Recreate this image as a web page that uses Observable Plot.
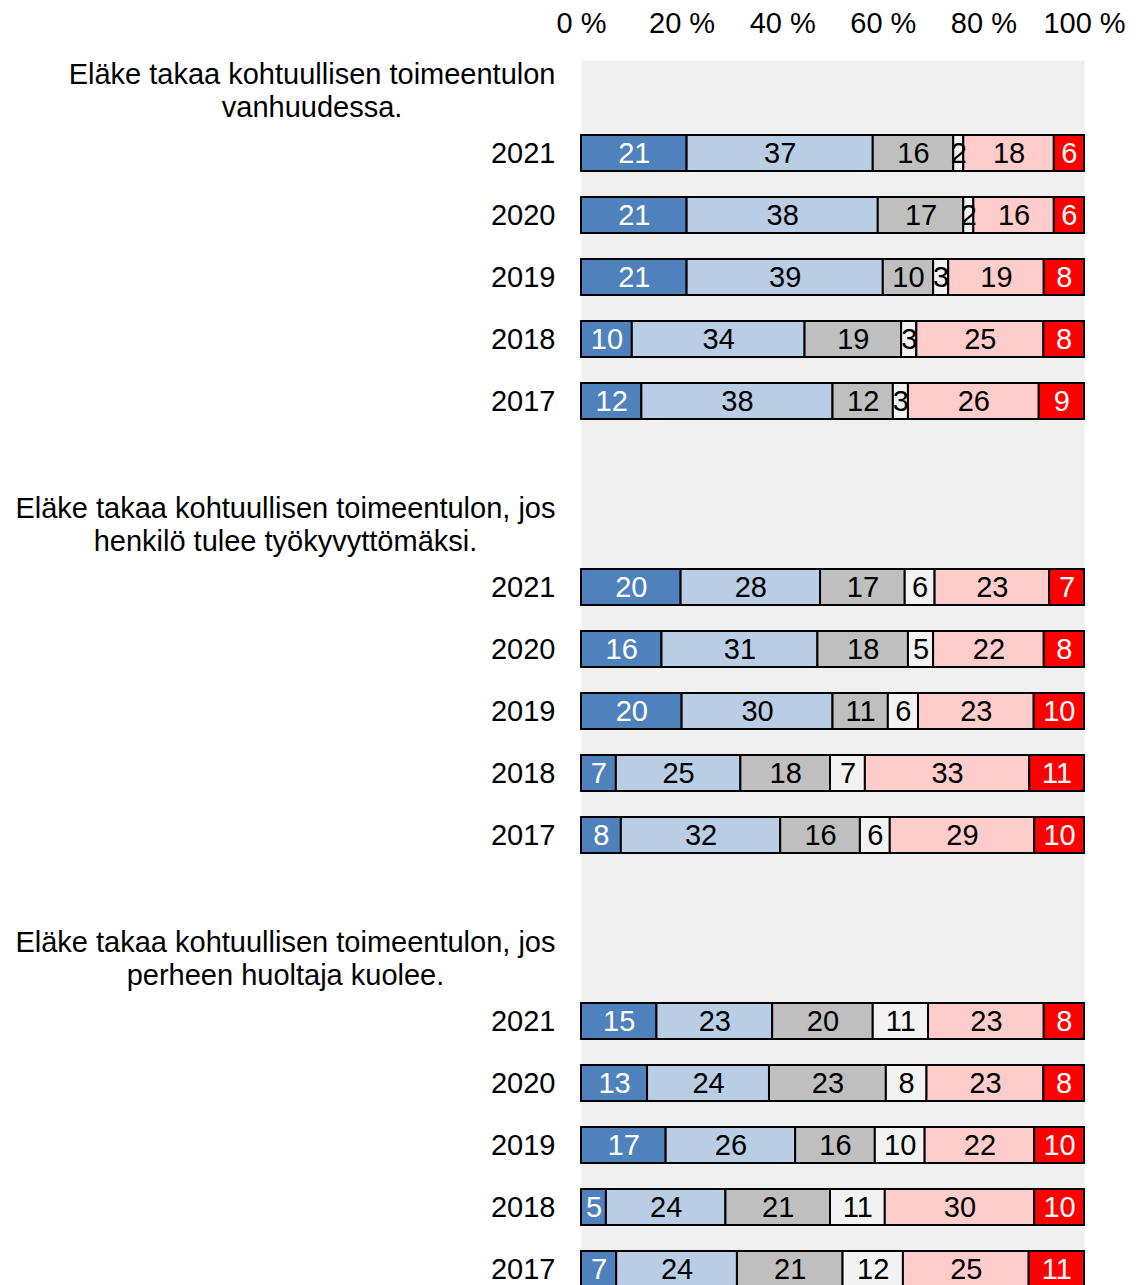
<!DOCTYPE html>
<html>
<head>
<meta charset="utf-8">
<script src="https://cdn.jsdelivr.net/npm/d3@7"></script>
<script src="https://cdn.jsdelivr.net/npm/@observablehq/plot@0.6"></script>
<style>
  html, body { margin: 0; padding: 0; background: #fff; }
  #chart { width: 1136px; height: 1285px; overflow: hidden; }
</style>
</head>
<body>
<div id="chart"></div>
<script>
const groups = [
  "Eläke takaa kohtuullisen toimeentulon\nvanhuudessa.",
  "Eläke takaa kohtuullisen toimeentulon, jos\nhenkilö tulee työkyvyttömäksi.",
  "Eläke takaa kohtuullisen toimeentulon, jos\nperheen huoltaja kuolee."
];
const years = ["2021", "2020", "2019", "2018", "2017"];
const categories = ["c1", "c2", "c3", "c4", "c5", "c6"];
const colors = ["#4f81bd", "#b9cde5", "#bfbfbf", "#f2f2f2", "#ffcccc", "#ff0000"];
const textColors = ["#ffffff", "#000000", "#000000", "#000000", "#000000", "#ffffff"];
const tickLabels = ["0 %", "20 %", "40 %", "60 %", "80 %", "100 %"];

const values1 = [
  [21, 37, 16, 2, 18, 6],
  [21, 38, 17, 2, 16, 6],
  [21, 39, 10, 3, 19, 8],
  [10, 34, 19, 3, 25, 8],
  [12, 38, 12, 3, 26, 9]
];
const values2 = [
  [20, 28, 17, 6, 23, 7],
  [16, 31, 18, 5, 22, 8],
  [20, 30, 11, 6, 23, 10],
  [7, 25, 18, 7, 33, 11],
  [8, 32, 16, 6, 29, 10]
];
const values3 = [
  [15, 23, 20, 11, 23, 8],
  [13, 24, 23, 8, 23, 8],
  [17, 26, 16, 10, 22, 10],
  [5, 24, 21, 11, 30, 10],
  [7, 24, 21, 12, 25, 11]
];
const allValues = [values1, values2, values3];

// Build slot domain: title, 5 years, spacer per group
const slots = [];
const titleRows = [];
const rows = [];
groups.forEach((g, gi) => {
  const tk = `t${gi}`;
  slots.push(tk);
  titleRows.push({slot: tk, text: g, gi});
  years.forEach((yr, yi) => {
    const key = `g${gi}-${yr}`;
    slots.push(key);
    allValues[gi][yi].forEach((v, ci) => {
      rows.push({slot: key, year: yr, cat: categories[ci], ci, value: v});
    });
  });
  if (gi < groups.length - 1) slots.push(`e${gi}`);
});

const FONT = "Liberation Sans, Arial, sans-serif";
const FS = 29;
const ctx = document.createElement("canvas").getContext("2d");
ctx.font = `${FS}px ${FONT}`;
const marginLeft = 581;
const labelGap = 26;

const titleMarks = titleRows.map(t => {
  const w = d3.max(t.text.split("\n"), s => ctx.measureText(s).width);
  return Plot.text([t], {
    x: 0, y: "slot", text: "text",
    textAnchor: "middle", lineAnchor: "middle", lineHeight: 33 / FS,
    dx: -(labelGap + w / 2), dy: -2, fill: "#000", fontSize: FS
  });
});

const textFill = new Map(categories.map((c, i) => [c, textColors[i]]));

const chart = Plot.plot({
  width: 1136,
  height: 1285,
  marginLeft,
  marginRight: 52,
  marginTop: 60,
  marginBottom: 0,
  style: {fontFamily: FONT, fontSize: FS + "px", background: "#fff", overflow: "hidden"},
  x: {domain: [0, 1], axis: null},
  y: {type: "band", domain: slots, range: [60, 1300], paddingInner: 0.42, paddingOuter: 0.21, axis: null},
  color: {domain: categories, range: colors},
  marks: [
    Plot.frame({fill: "#f0f0f0", stroke: null}),
    Plot.axisX({
      anchor: "top", ticks: [0, 0.2, 0.4, 0.6, 0.8, 1], label: null,
      tickFormat: (d, i) => tickLabels[i], tickSize: 0, tickPadding: 28,
      fontSize: FS, fill: "#000"
    }),
    Plot.axisY({
      anchor: "left", ticks: slots.filter(s => s.startsWith("g")), label: null,
      tickFormat: s => s.split("-")[1], tickSize: 0, tickPadding: labelGap,
      fontSize: FS, fill: "#000"
    }),
    ...titleMarks,
    Plot.barX(rows, Plot.stackX({
      x: "value", y: "slot", z: "cat", fill: "cat", order: categories,
      offset: "normalize", stroke: "#000", strokeWidth: 2
    })),
    Plot.text(rows, Plot.stackX({
      x: "value", y: "slot", z: "cat", order: categories, offset: "normalize",
      text: d => String(d.value), fill: d => textFill.get(d.cat), fontSize: FS
    }))
  ]
});
document.getElementById("chart").appendChild(chart);
</script>
</body>
</html>
